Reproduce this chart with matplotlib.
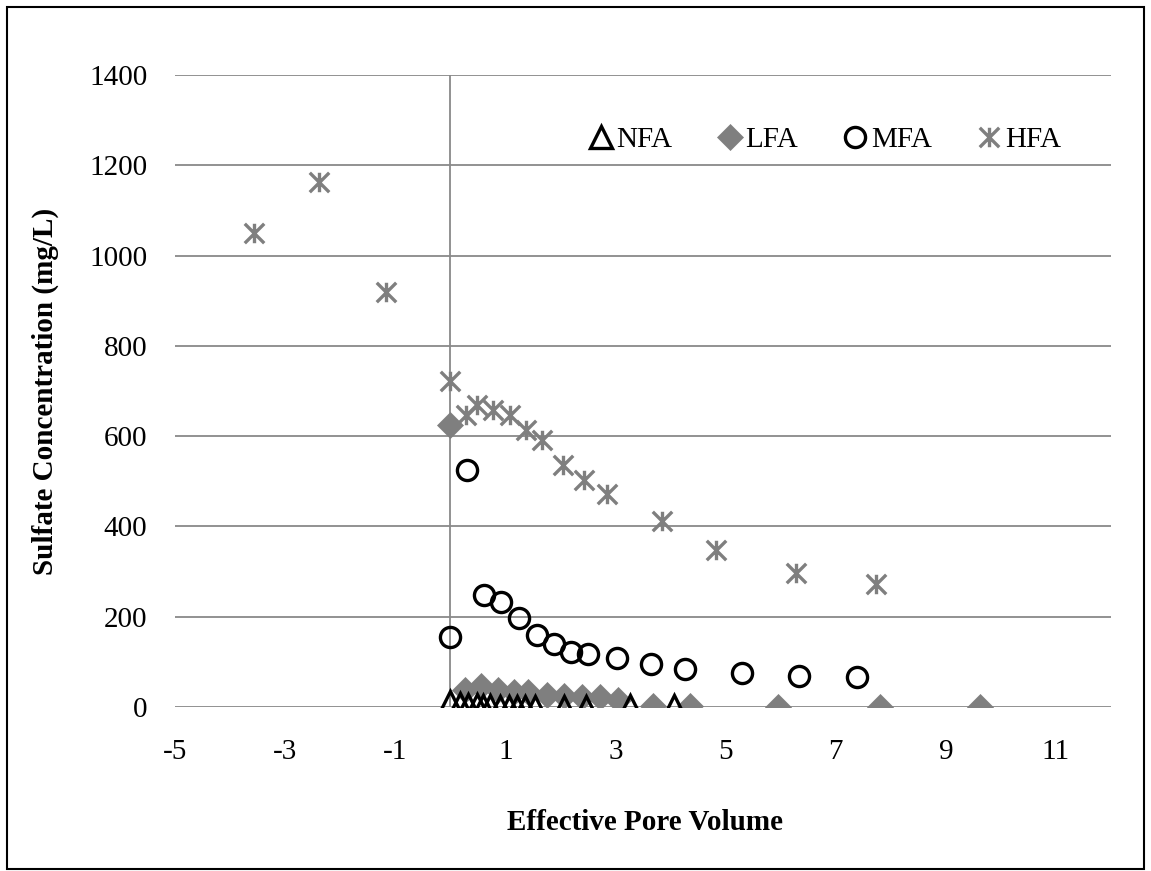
import matplotlib
matplotlib.use("Agg")
import matplotlib.pyplot as plt
from matplotlib.path import Path
from matplotlib.patches import Rectangle

plt.rcParams['font.family'] = ['Liberation Serif', 'DejaVu Serif']
plt.rcParams['font.size'] = 21
plt.rcParams['axes.unicode_minus'] = False

# data
nfa_x = [0, 0.17, 0.33, 0.48, 0.60, 0.72, 0.91, 1.06, 1.21, 1.36, 1.54, 2.06, 2.47, 3.27, 4.06]
nfa_y = [10, 6, 5, 5, 3, 2, 1, 1, 1, 1, 1, 1, 1, 2, 2]

lfa_x = [0, 0.26, 0.55, 0.86, 1.15, 1.42, 1.75, 2.07, 2.39, 2.71, 3.05, 3.69, 4.35, 5.96, 7.80, 9.62]
lfa_y = [624, 38, 47, 37, 33, 34, 27, 24, 23, 22, 15, 2, 2, 1, 1, 1]

mfa_x = [0, 0.30, 0.62, 0.92, 1.24, 1.57, 1.89, 2.20, 2.51, 3.02, 3.64, 4.27, 5.30, 6.34, 7.39]
mfa_y = [156, 524, 247, 232, 198, 160, 140, 122, 117, 108, 96, 84, 75, 68, 66]

hfa_x = [-3.56, -2.39, -1.165, 0, 0.29, 0.48, 0.77, 1.09, 1.38, 1.67, 2.04, 2.42, 2.84, 3.85, 4.82, 6.28, 7.74]
hfa_y = [1050, 1164, 919, 722, 647, 668, 658, 646, 613, 591, 535, 503, 472, 413, 347, 296, 273]

x_ticks = [-5, -3, -1, 1, 3, 5, 7, 9, 11]
y_ticks = [0, 200, 400, 600, 800, 1000, 1200, 1400]

grid_c = '#898989'
gray = '#7f7f7f'

# Excel style star: X plus vertical bar
star = Path([(-1, -1), (1, 1), (-1, 1), (1, -1), (0, -1), (0, 1)],
            [Path.MOVETO, Path.LINETO, Path.MOVETO, Path.LINETO, Path.MOVETO, Path.LINETO])

fig = plt.figure(figsize=(11.51, 8.71), dpi=100)
ax = fig.add_axes([175/1151, 1 - 707/871, (1111 - 175)/1151, (707 - 75)/871])

for v in y_ticks:
    ax.axhline(v, color=grid_c, lw=1.3, zorder=0)
ax.axvline(0, color=grid_c, lw=1.3, zorder=0)

ax.plot(hfa_x, hfa_y, ls='none', marker=star, ms=14, mec=gray, mew=2.4, label='HFA', zorder=3)
ax.plot(mfa_x, mfa_y, ls='none', marker='o', ms=14.5, mfc='none', mec='black', mew=2.4, label='MFA', zorder=3)
ax.plot(lfa_x, lfa_y, ls='none', marker='D', ms=13, mfc=gray, mec=gray, mew=0.5, label='LFA', zorder=3)
ax.plot(nfa_x, nfa_y, ls='none', marker='^', ms=16, mfc='none', mec='black', mew=2.4, label='NFA', zorder=4)

ax.set_xlim(-5, 12)
ax.set_ylim(0, 1400)
ax.set_xticks(x_ticks)
ax.set_yticks(y_ticks)
ax.tick_params(length=0)
ax.tick_params(axis='y', pad=20)
ax.tick_params(axis='x', pad=23)
for s in ax.spines.values():
    s.set_visible(False)

handles, labels = ax.get_legend_handles_labels()
order = [3, 2, 1, 0]
ax.legend([handles[i] for i in order], [labels[i] for i in order],
          ncol=4, frameon=False, loc='center left',
          bbox_to_anchor=(586/1151, 1 - 140/871), bbox_transform=fig.transFigure,
          borderpad=0, handlelength=1.0, handletextpad=0.05, columnspacing=1.45,
          borderaxespad=0)

fig.text(645/1151, 1 - 822/871, 'Effective Pore Volume', ha='center', va='center',
         fontweight='bold', fontsize=21)
fig.text(45/1151, 1 - 391/871, 'Sulfate Concentration (mg/L)', ha='center', va='center',
         rotation=90, fontweight='bold', fontsize=21)

fig.patches.append(Rectangle((7/1151, 1 - 869/871), (1144 - 7)/1151, (869 - 7)/871,
                             transform=fig.transFigure, fill=False, ec='black', lw=1.5))

fig.savefig('out.png', dpi=100)
